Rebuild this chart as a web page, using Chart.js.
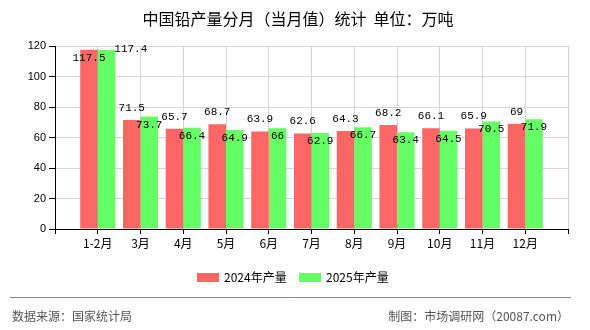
<!DOCTYPE html>
<html>
<head>
<meta charset="utf-8">
<script src="https://cdn.jsdelivr.net/npm/chart.js@4"></script>
<style>
  html, body { margin: 0; padding: 0; background: #fff; }
  #wrap { width: 590px; height: 330px; }
</style>
</head>
<body>
<div id="wrap"><canvas id="chart" width="590" height="330"></canvas></div>
<script>
const categories = ['1-2月', '3月', '4月', '5月', '6月', '7月', '8月', '9月', '10月', '11月', '12月']
const output2024 = [117.5, 71.5, 65.7, 68.7, 63.9, 62.6, 64.3, 68.2, 66.1, 65.9, 69]
const output2025 = [117.4, 73.7, 66.4, 64.9, 66, 62.9, 66.7, 63.4, 64.5, 70.5, 71.9]
const seriesNames = ['2024年产量', '2025年产量']
const seriesColors = ['#ff6666', '#66ff66']
const titleText = '中国铅产量分月（当月值）统计  单位：万吨'
const sourceText = '数据来源：国家统计局'
const creditText = '制图：市场调研网（20087.com）'

const CJK = '"Noto Sans CJK SC", "Liberation Sans", sans-serif'
const MONO = '"Liberation Mono", "DejaVu Sans Mono", monospace'

// empty slot at both ends so the grid lines fall on the bars
const labels = ['', ...categories, '']
const pad = arr => [null, ...arr, null]

const valueLabels = {
    id: 'valueLabels',
    afterDatasetsDraw(chart) {
        const { ctx, chartArea } = chart
        const red = chart.getDatasetMeta(0).data
        const green = chart.getDatasetMeta(1).data
        ctx.save()
        ctx.font = '11px ' + MONO
        ctx.fillStyle = '#000'
        ctx.textAlign = 'center'
        ctx.textBaseline = 'middle'
        for (let i = 1; i < labels.length - 1; i++) {
            const a = red[i], b = green[i]
            const ta = String(output2024[i - 1])
            const tb = String(output2025[i - 1])
            let ay = a.y - 12
            if (ay - 5 < chartArea.top) ay = a.y + 8
            const wa = ctx.measureText(ta).width
            let bx = b.x, by = b.y + 8
            const wb = ctx.measureText(tb).width
            const overlapX = Math.abs(bx - a.x) < (wa + wb) / 2
            const overlapY = Math.abs(by - ay) < 10
            if (overlapX && overlapY) {
                bx = b.x + b.width / 2 - 1 + wb / 2
                by = b.y - 1
            }
            ctx.fillText(ta, a.x, ay)
            ctx.fillText(tb, bx, by)
        }
        ctx.restore()
    }
}

const frame = {
    id: 'frame',
    afterDraw(chart) {
        const { ctx } = chart
        ctx.save()
        ctx.fillStyle = '#000'
        ctx.textBaseline = 'middle'
        ctx.textAlign = 'center'
        ctx.font = '16px ' + CJK
        ctx.fillText(titleText, 298, 19)

        // legend
        ctx.font = '12px ' + CJK
        ctx.textAlign = 'left'
        const legendX = [197, 299]
        seriesNames.forEach((name, i) => {
            ctx.fillStyle = seriesColors[i]
            ctx.fillRect(legendX[i], 273, 22, 9)
            ctx.fillStyle = '#000'
            ctx.fillText(name, legendX[i] + 27, 277.5)
        })

        // footer
        ctx.strokeStyle = '#888'
        ctx.lineWidth = 1
        ctx.beginPath()
        ctx.moveTo(10, 297.5)
        ctx.lineTo(571, 297.5)
        ctx.stroke()
        ctx.fillStyle = '#555'
        ctx.fillText(sourceText, 12, 316)
        ctx.textAlign = 'right'
        ctx.fillText(creditText, 569, 316)
        ctx.restore()
    }
}

new Chart(document.getElementById('chart'), {
    type: 'bar',
    data: {
        labels,
        datasets: seriesNames.map((label, i) => ({
            label,
            data: pad(i === 0 ? output2024 : output2025),
            backgroundColor: seriesColors[i],
            borderWidth: 0,
            categoryPercentage: 0.82,
            barPercentage: 1,
        })),
    },
    options: {
        responsive: false,
        animation: false,
        devicePixelRatio: 1,
        layout: { padding: { left: 0, top: 46, right: 22, bottom: 81 } },
        plugins: {
            legend: { display: false },
            title: { display: false },
            tooltip: { enabled: false },
        },
        scales: {
            x: {
                offset: false,
                grid: { offset: false, color: '#d4d4d4', tickColor: '#000', tickLength: 5 },
                border: { color: '#000' },
                ticks: {
                    autoSkip: false,
                    maxRotation: 0,
                    padding: 2,
                    color: '#000',
                    font: { family: CJK, size: 12 },
                },
                afterFit(scale) { scale.height = 20 },
            },
            y: {
                min: 0,
                max: 120,
                grid: { color: '#d4d4d4', tickColor: '#000', tickLength: 6 },
                border: { color: '#000' },
                ticks: {
                    stepSize: 20,
                    padding: 3,
                    color: '#000',
                    font: { family: '"Liberation Sans", sans-serif', size: 11 },
                },
                afterFit(scale) { scale.width = 55 },
            },
        },
    },
    plugins: [valueLabels, frame],
})
</script>
</body>
</html>
